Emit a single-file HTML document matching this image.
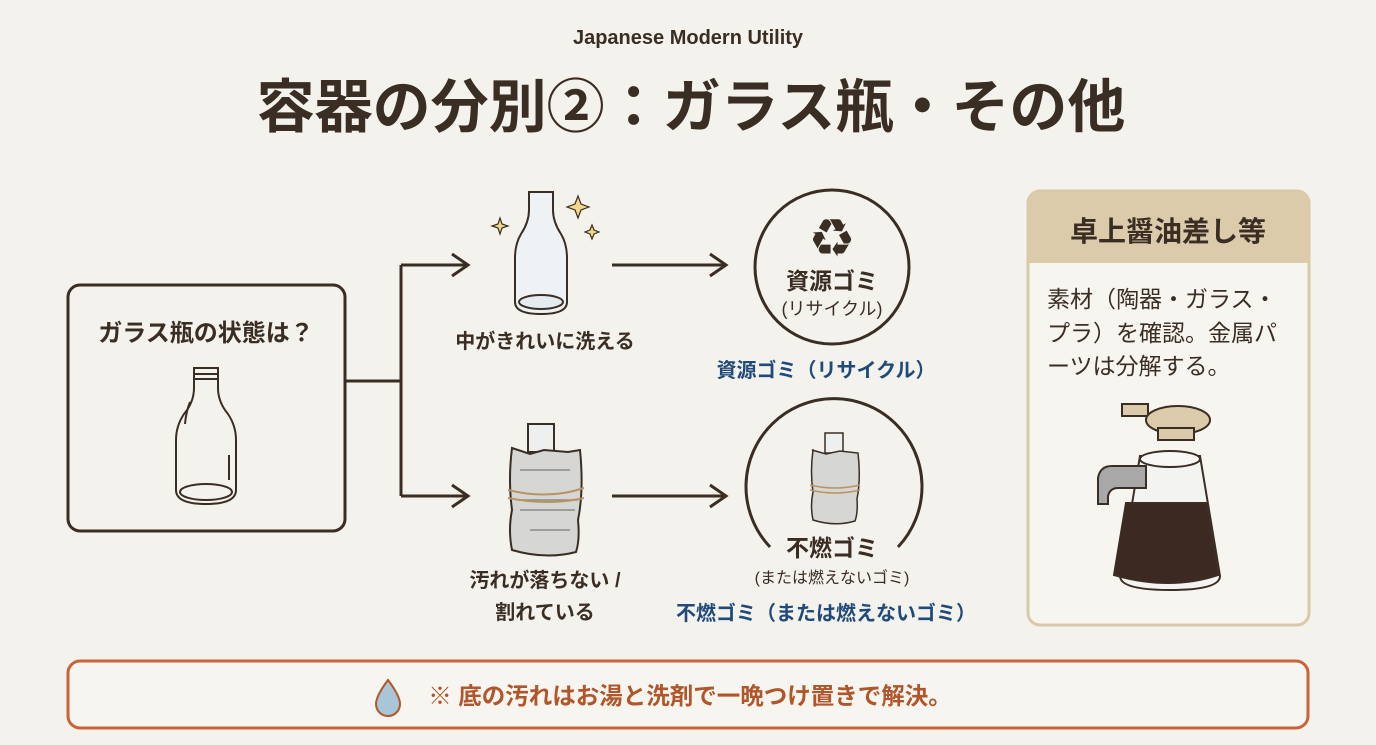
<!DOCTYPE html>
<html><head><meta charset="utf-8"><style>
html,body{margin:0;padding:0;background:#f4f2ec;}
svg{display:block}
text{font-family:"Liberation Sans","Noto Sans CJK JP",sans-serif;}
</style></head><body>
<svg width="1376" height="745" viewBox="0 0 1376 745" xmlns="http://www.w3.org/2000/svg">
<rect width="1376" height="745" fill="#f4f2ec"/>
<text x="688" y="44" text-anchor="middle" font-size="20" font-weight="bold" fill="#3a2d24">Japanese Modern Utility</text>
<text x="691" y="127" text-anchor="middle" font-size="58" font-weight="bold" fill="#3a2d24">容器の分別②：ガラス瓶・その他</text>

<!-- left box -->
<rect x="68" y="285" width="277" height="246" rx="12" fill="none" stroke="#3a2d24" stroke-width="3"/>
<text x="206" y="341" text-anchor="middle" font-size="24" font-weight="bold" fill="#3a2d24">ガラス瓶の状態は？</text>
<g fill="none" stroke="#3a2d24" stroke-width="2">
<path d="M194 368 h24 v20 q0 14 10 26 q8 12 8 26 v50 q0 14 -30 14 q-30 0 -30 -14 v-50 q0 -14 8 -26 q10 -12 10 -26 z"/>
<ellipse cx="206" cy="492" rx="26" ry="8"/>
<path d="M194 374 h24 M194 379 h24"/>
<path d="M190 402 q-4 10 -5 22 M229 455 v25"/>
</g>

<!-- connectors -->
<g fill="none" stroke="#3a2d24" stroke-width="3">
<path d="M346 381 H401 M401 265 V496 M401 265 H466 M401 496 H466"/>
<path d="M452 254 L468 265 L452 276 M452 485 L468 496 L452 507"/>
<path d="M612 265 H724 M710 254 L726 265 L710 276"/>
<path d="M612 496 H724 M710 485 L726 496 L710 507"/>
</g>

<!-- top bottle -->
<g fill="#eef2f4" stroke="#3a2d24" stroke-width="2">
<path d="M529 192 h24 v18 q0 12 8 24 q6 10 6 24 v44 q0 12 -26 12 q-26 0 -26 -12 v-44 q0 -14 6 -24 q8 -12 8 -24 z"/>
<ellipse cx="541" cy="302" rx="22" ry="7" fill="#e4ecf0"/>
</g>
<g fill="#f2d98a" stroke="#3a2d24" stroke-width="1.2">
<path d="M578 196 l3 8 l8 3 l-8 3 l-3 8 l-3 -8 l-8 -3 l8 -3 z"/>
<path d="M500 218 l2 6 l6 2 l-6 2 l-2 6 l-2 -6 l-6 -2 l6 -2 z"/>
<path d="M592 225 l2 5 l5 2 l-5 2 l-2 5 l-2 -5 l-5 -2 l5 -2 z"/>
</g>
<text x="545" y="348" text-anchor="middle" font-size="20" font-weight="bold" fill="#3a2d24">中がきれいに洗える</text>

<!-- wrapped bottle -->
<g stroke="#3a2d24" stroke-width="2">
<rect x="528" y="424" width="26" height="28" fill="#eef0f0"/>
<path d="M512 448 l18 6 l14 -4 l24 2 l12 -2 q4 40 -2 70 q2 20 -2 32 q-30 8 -64 -2 q-4 -20 0 -40 q-4 -30 0 -62 z" fill="#d6d6d4"/>
<path d="M520 470 h50 M518 500 h60 M520 510 h55 M530 530 h40" stroke="#8a8a88" stroke-width="1.5"/>
<path d="M508 490 q40 10 76 -2 M508 498 q40 8 76 0" stroke="#b89460" stroke-width="2" fill="none"/>
</g>
<text x="545" y="587" text-anchor="middle" font-size="20" font-weight="bold" fill="#3a2d24">汚れが落ちない /</text>
<text x="545" y="619" text-anchor="middle" font-size="20" font-weight="bold" fill="#3a2d24">割れている</text>

<!-- top circle -->
<circle cx="832" cy="267" r="77" fill="none" stroke="#3a2d24" stroke-width="3"/>
<text x="832" y="252" text-anchor="middle" font-size="40" fill="#3a2d24">♻</text>
<text x="832" y="289" text-anchor="middle" font-size="23" font-weight="bold" fill="#3a2d24">資源ゴミ</text>
<text x="832" y="315" text-anchor="middle" font-size="18" fill="#3a2d24">(リサイクル)</text>
<text x="826" y="377" text-anchor="middle" font-size="20" font-weight="bold" fill="#1f4a7a">資源ゴミ（リサイクル）</text>

<!-- bottom circle -->
<path d="M770 547 A88 88 0 1 1 898 547" fill="none" stroke="#3a2d24" stroke-width="3"/>
<g stroke="#3a2d24" stroke-width="1.5">
<rect x="825" y="433" width="18" height="20" fill="#eef0f0"/>
<path d="M812 450 l14 4 l14 -3 l18 2 q3 26 -1 46 q1 14 -2 22 q-20 6 -42 -1 q-3 -14 0 -28 q-3 -20 0 -42 z" fill="#d6d6d4"/>
<path d="M810 485 q25 6 50 0 M810 490 q25 6 50 0" stroke="#b89460" fill="none"/>
</g>
<text x="832" y="556" text-anchor="middle" font-size="23" font-weight="bold" fill="#3a2d24">不燃ゴミ</text>
<text x="832" y="583" text-anchor="middle" font-size="16" fill="#3a2d24">(または燃えないゴミ)</text>
<text x="826" y="620" text-anchor="middle" font-size="20" font-weight="bold" fill="#1f4a7a">不燃ゴミ（または燃えないゴミ）</text>

<!-- right panel -->
<rect x="1028" y="191" width="281" height="434" rx="12" fill="#f7f5ef" stroke="#d9c9ab" stroke-width="3"/>
<path d="M1028 263 V203 q0 -12 12 -12 h257 q12 0 12 12 V263 z" fill="#dccbab"/>
<text x="1168" y="241" text-anchor="middle" font-size="28" font-weight="bold" fill="#3a2d24">卓上醤油差し等</text>
<text x="1047" y="307" font-size="23" fill="#3a2d24">素材（陶器・ガラス・</text>
<text x="1047" y="341" font-size="23" fill="#3a2d24">プラ）を確認。金属パ</text>
<text x="1047" y="374" font-size="23" fill="#3a2d24">ーツは分解する。</text>
<g stroke="#3a2d24" stroke-width="2">
<path d="M1122 404 h26 v12 h-26 z" fill="#dccbab"/>
<ellipse cx="1178" cy="420" rx="32" ry="14" fill="#dccbab"/>
<rect x="1158" y="428" width="36" height="12" fill="#dccbab"/>
<path d="M1140 456 h60 l20 120 q0 14 -50 14 q-50 0 -50 -14 z" fill="#f3f3f1"/>
<ellipse cx="1170" cy="459" rx="30" ry="8" fill="#f7f7f5"/>
<path d="M1126 503 h80 l12 72 q-48 16 -104 0 z" fill="#3c2a22"/>
<path d="M1098 478 q2 -12 14 -12 h34 v22 h-28 q-8 0 -10 8 v8 h-10 z" fill="#a8a8a8"/>
</g>

<!-- bottom bar -->
<rect x="68" y="661" width="1240" height="67" rx="12" fill="#f7f5ef" stroke="#c8643a" stroke-width="3"/>
<path d="M388 680 q-12 16 -12 24 a12 12 0 0 0 24 0 q0 -8 -12 -24 z" fill="#a9c6d8" stroke="#b0562a" stroke-width="2"/>
<text x="690" y="704" text-anchor="middle" font-size="23.5" font-weight="bold" fill="#b0562a">※ 底の汚れはお湯と洗剤で一晩つけ置きで解決。</text>
</svg>
</body></html>
